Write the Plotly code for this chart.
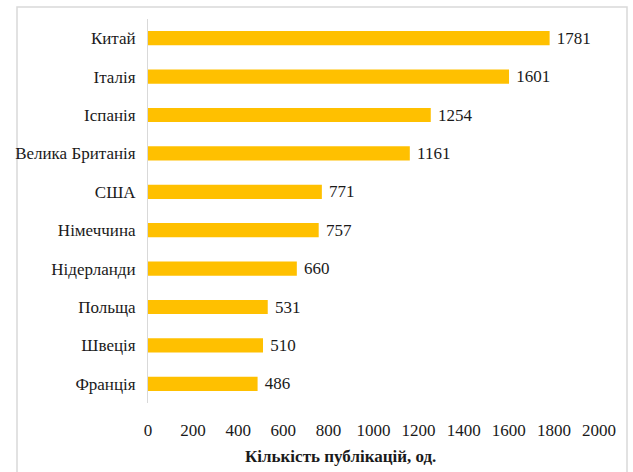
import plotly.graph_objects as go

countries = ["Китай", "Італія", "Іспанія", "Велика Британія", "США",
             "Німеччина", "Нідерланди", "Польща", "Швеція", "Франція"]
publications = [1781, 1601, 1254, 1161, 771, 757, 660, 531, 510, 486]
x_ticks = [0, 200, 400, 600, 800, 1000, 1200, 1400, 1600, 1800, 2000]
x_title = "Кількість публікацій, од."

W, H = 633, 472
L, R, T, B = 148, 34, 19, 69
pw, ph = W - L - R, H - T - B

FONT = "Liberation Serif"
TXT = "#1a1a1a"

fig = go.Figure(go.Bar(
    x=publications,
    y=countries,
    orientation="h",
    marker=dict(color="#FFC000", line=dict(width=0)),
    width=0.37,
    text=[f" {v}" for v in publications],
    textposition="outside",
    constraintext="none",
    textfont=dict(family=FONT, size=17, color=TXT),
    cliponaxis=False,
))

def px_x(p):
    return (p - L) / pw

def px_y(p):
    return (H - B - p) / ph

fig.update_layout(
    width=W, height=H,
    margin=dict(l=L, r=R, t=T, b=B),
    paper_bgcolor="white",
    plot_bgcolor="white",
    showlegend=False,
    font=dict(family=FONT, size=17, color=TXT),
    xaxis=dict(
        range=[0, 2000],
        tickvals=x_ticks,
        showgrid=False,
        zeroline=False,
        showline=False,
        ticks="outside",
        ticklen=12,
        tickcolor="rgba(0,0,0,0)",
        tickfont=dict(family=FONT, size=17, color=TXT),
        automargin=False,
    ),
    yaxis=dict(
        categoryorder="array",
        categoryarray=countries[::-1],
        showgrid=False,
        zeroline=False,
        showline=True,
        linecolor="#d9d9d9",
        linewidth=1,
        ticks="",
        ticklabelstandoff=8,
        tickfont=dict(family=FONT, size=17, color=TXT),
        automargin=False,
    ),
    annotations=[dict(
        text=f"<b>{x_title}</b>",
        xref="paper", yref="paper",
        x=px_x(340), y=px_y(456),
        xanchor="center", yanchor="middle",
        showarrow=False,
        font=dict(family=FONT, size=17, color=TXT),
    )],
    shapes=[dict(
        type="rect", xref="paper", yref="paper",
        x0=px_x(17), x1=px_x(627), y0=px_y(480), y1=px_y(7),
        line=dict(color="#d9d9d9", width=1.5),
        fillcolor="rgba(0,0,0,0)",
        layer="below",
    )],
)

fig.write_html("out.html")
